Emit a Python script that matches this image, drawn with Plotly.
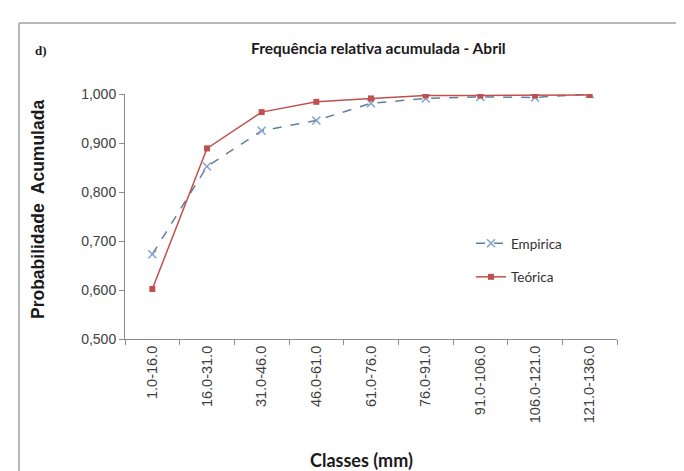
import plotly.graph_objects as go

categories = ["1.0-16.0", "16.0-31.0", "31.0-46.0", "46.0-61.0", "61.0-76.0",
              "76.0-91.0", "91.0-106.0", "106.0-121.0", "121.0-136.0"]
empirica = [0.673, 0.852, 0.925, 0.946, 0.981, 0.991, 0.994, 0.993, 1.000]
teorica = [0.602, 0.889, 0.963, 0.984, 0.991, 0.997, 0.997, 0.997, 0.998]
ytick_vals = [0.5, 0.6, 0.7, 0.8, 0.9, 1.0]
ytick_text = ["0,500", "0,600", "0,700", "0,800", "0,900", "1,000"]

FONT = "Lato"
TICKFONT = "Liberation Sans"
W, H = 684, 471
L, R, T, B = 117, 75, 86, 140
pw, ph = W - L - R, H - T - B

def px(x):
    return (x - L) / pw

def py(y):
    return (H - B - y) / ph

fig = go.Figure()
fig.add_trace(go.Scatter(
    x=categories, y=empirica, name="Empirica", mode="lines+markers",
    legendgroup="a",
    line=dict(color="#62809e", width=1.5, dash="dash"),
    marker=dict(symbol="x-thin", size=8, color="#7fa3cf",
                line=dict(color="#7fa3cf", width=1.5)),
))
fig.add_trace(go.Scatter(
    x=categories, y=teorica, name="Teórica", mode="lines+markers",
    legendgroup="b",
    line=dict(color="#c0504d", width=1.5),
    marker=dict(symbol="square", size=6, color="#c0504d"),
))

fig.update_layout(
    width=W, height=H,
    margin=dict(l=L, r=R, t=T, b=B),
    paper_bgcolor="white", plot_bgcolor="white",
    font=dict(family=FONT, color="#404040"),
    showlegend=True,
    legend=dict(x=px(463), y=py(220), xanchor="left", yanchor="top",
                font=dict(size=13.5, color="#303030", family=FONT),
                bgcolor="rgba(0,0,0,0)", tracegroupgap=13,
                traceorder="grouped"),
    xaxis=dict(
        type="category", range=[-0.5, 8.5],
        showline=True, linecolor="#8c8c8c", linewidth=1,
        ticks="outside", ticklen=5, tickcolor="#8c8c8c",
        tickson="boundaries", tickangle=-90,
        tickfont=dict(size=14.5, color="#404040", family=TICKFONT),
        showgrid=False, zeroline=False,
    ),
    yaxis=dict(
        range=[0.5, 1.0],
        tickvals=ytick_vals, ticktext=ytick_text,
        showline=True, linecolor="#8c8c8c", linewidth=1,
        ticks="outside", ticklen=5, tickcolor="#8c8c8c",
        tickfont=dict(size=14, color="#404040", family=TICKFONT),
        showgrid=False, zeroline=False,
    ),
    annotations=[
        dict(text="<b>Frequência relativa acumulada - Abril</b>",
             x=352 / W, y=py(40), xref="paper", yref="paper",
             xanchor="center", yanchor="middle", showarrow=False,
             font=dict(size=15.5, color="#1a1a1a", family=FONT)),
        dict(text="<b>d)</b>", x=px(25), y=py(42), xref="paper", yref="paper",
             xanchor="left", yanchor="middle", showarrow=False,
             font=dict(size=13, color="#1a1a1a", family="Liberation Serif")),
        dict(text="<b>Probabilidade  Acumulada</b>", x=px(30), y=py(202),
             xref="paper", yref="paper", textangle=-90,
             xanchor="center", yanchor="middle", showarrow=False,
             font=dict(size=17.5, color="#1a1a1a", family="Liberation Sans")),
        dict(text="<b>Classes (mm)</b>", x=px(353), y=py(452),
             xref="paper", yref="paper",
             xanchor="center", yanchor="middle", showarrow=False,
             font=dict(size=18, color="#1a1a1a", family=FONT)),
    ],
    shapes=[
        dict(type="line", xref="paper", yref="paper",
             x0=px(11), x1=px(700), y0=py(15), y1=py(15),
             line=dict(color="#a0a0a0", width=1.5)),
        dict(type="line", xref="paper", yref="paper",
             x0=px(11), x1=px(11), y0=py(15), y1=py(480),
             line=dict(color="#a0a0a0", width=1.5)),
    ],
)

fig.write_html("out.html")
